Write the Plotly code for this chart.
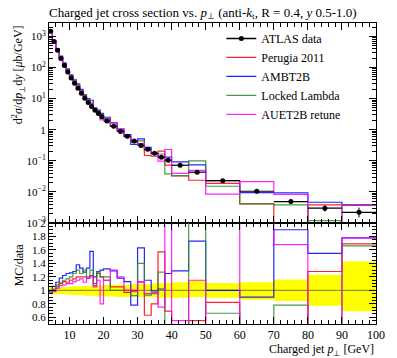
import plotly.graph_objects as go

# ---- data ----
edges = [4,5,6,7,8,9,10,11,12,13,14,15,16,17,18,19,20,22,24,26,28,30,32,34,36,38,40,45,50,60,70,80,90,100]
atlas = [1450,680,360,195,115,72,46,31,21.5,14.8,10.3,7.5,5.6,4.2,3.3,2.6,1.9,1.28,0.88,0.62,0.43,0.31,0.235,0.175,0.13,0.105,0.072,0.043,0.023,0.0105,0.0049,0.0030,0.0022]
err_up = [0.05,0.05,0.05,0.05,0.05,0.05,0.05,0.06,0.06,0.06,0.06,0.06,0.07,0.07,0.07,0.07,0.08,0.08,0.08,0.08,0.09,0.09,0.09,0.10,0.10,0.11,0.12,0.15,0.11,0.12,0.16,0.23,0.43]
err_dn = [0.06,0.06,0.06,0.06,0.06,0.06,0.07,0.07,0.07,0.07,0.08,0.08,0.08,0.08,0.09,0.09,0.09,0.09,0.10,0.10,0.10,0.10,0.10,0.10,0.11,0.11,0.11,0.10,0.11,0.14,0.16,0.23,0.31]

r_perugia = [0.96,1.00,1.05,1.10,1.13,1.12,1.15,1.17,1.20,1.20,1.20,1.18,1.22,1.10,1.25,1.20,1.15,1.05,1.05,0.97,1.00,1.12,0.63,0.80,1.57,0.69,0.45,0.55,0.82,0.39,0.15,1.28,1.69]
r_ambt2b = [1.00,1.06,1.12,1.18,1.22,1.25,1.26,1.28,1.38,1.33,1.27,1.33,1.58,1.20,1.28,1.30,1.32,1.29,1.18,1.13,0.78,1.63,1.15,0.99,1.02,1.25,1.29,1.73,1.00,0.90,1.90,1.55,1.78]
r_locked = [0.98,1.02,1.08,1.12,1.15,1.17,1.20,1.25,1.30,1.25,1.30,1.20,1.30,1.07,1.27,1.20,1.20,1.00,1.00,1.00,0.92,1.40,0.93,0.95,1.27,0.36,0.46,2.30,0.66,0.39,0.78,0.40,1.66]
r_auet2b = [0.96,0.98,1.03,1.07,1.08,1.10,1.10,1.13,1.15,1.17,1.12,1.18,1.20,1.05,1.15,0.80,1.15,1.30,1.20,1.00,0.98,1.13,0.95,0.97,0.75,2.20,0.55,1.15,0.37,2.05,1.68,0.25,1.78]

mc_names = ["Perugia 2011", "AMBT2B", "Locked Lambda", "AUET2B retune"]
mc_ratios = [r_perugia, r_ambt2b, r_locked, r_auet2b]
mc_colors = ["#ff0000", "#0000ff", "#2a8a2a", "#ff00ff"]

centers = [(a + b) / 2 for a, b in zip(edges[:-1], edges[1:])]
halfw = [(b - a) / 2 for a, b in zip(edges[:-1], edges[1:])]

def step(v):
    return list(v) + [v[-1]]

FONT = "Liberation Serif"
fig = go.Figure()

# ratio band
band_lo = [1 - e for e in err_dn]
band_hi = [1 + e for e in err_up]
fig.add_trace(go.Scatter(x=edges, y=step(band_lo), mode="lines", line=dict(width=0, shape="hv"),
                         xaxis="x2", yaxis="y2", showlegend=False, hoverinfo="skip"))
fig.add_trace(go.Scatter(x=edges, y=step(band_hi), mode="lines", line=dict(width=0, shape="hv"),
                         fill="tonexty", fillcolor="#ffff00", xaxis="x2", yaxis="y2",
                         showlegend=False, hoverinfo="skip"))
fig.add_trace(go.Scatter(x=edges, y=step([1.0] * len(atlas)), mode="lines",
                         line=dict(width=0.8, color="#555555", shape="hv"),
                         xaxis="x2", yaxis="y2", showlegend=False, hoverinfo="skip"))

# legend entry for data (line + dot, like the reference key)
fig.add_trace(go.Scatter(x=[None], y=[None], mode="lines+markers", name="ATLAS data",
                         line=dict(color="black", width=1.5), marker=dict(color="black", size=5),
                         legendrank=1, xaxis="x", yaxis="y"))

for k, (name, rr, col) in enumerate(zip(mc_names, mc_ratios, mc_colors)):
    mc = [d * r for d, r in zip(atlas, rr)]
    fig.add_trace(go.Scatter(x=edges, y=step(mc), mode="lines", name=name,
                             line=dict(color=col, width=1.2, shape="hv"),
                             opacity=0.85, legendrank=k + 2, xaxis="x", yaxis="y"))
    fig.add_trace(go.Scatter(x=edges, y=step(rr), mode="lines", name=name,
                             line=dict(color=col, width=1.2, shape="hv"),
                             opacity=0.85, showlegend=False, xaxis="x2", yaxis="y2"))

fig.add_trace(go.Scatter(
    x=centers, y=atlas, mode="markers", name="ATLAS data",
    marker=dict(color="black", size=5),
    error_x=dict(type="data", array=halfw, color="black", thickness=1.2, width=0),
    error_y=dict(type="data", symmetric=False,
                 array=[d * e for d, e in zip(atlas, err_up)],
                 arrayminus=[d * e for d, e in zip(atlas, err_dn)],
                 color="black", thickness=1, width=0),
    showlegend=False, xaxis="x", yaxis="y"))

split = (358 - 34 - 223) / 301.0

ax_common = dict(showline=True, linecolor="black", linewidth=1, mirror="allticks",
                 ticks="inside", tickcolor="black", showgrid=False, zeroline=False)

ytv = [1e-3, 1e-2, 1e-1, 1, 10, 100, 1000]
ytt = ["10<sup>−3</sup>", "10<sup>−2</sup>", "10<sup>−1</sup>", "1",
       "10<sup>1</sup>", "10<sup>2</sup>", "10<sup>3</sup>"]

fig.update_layout(
    width=397, height=358,
    margin=dict(l=49, r=13, t=23, b=34),
    paper_bgcolor="white", plot_bgcolor="white",
    font=dict(family=FONT, size=11, color="black"),
    showlegend=True,
    legend=dict(x=0.527, y=0.997, xanchor="left", yanchor="top", traceorder="normal",
                bgcolor="rgba(0,0,0,0)", font=dict(family=FONT, size=12),
                tracegroupgap=0, itemwidth=30),
    title=dict(text="Charged jet cross section vs. <i>p</i><sub>⊥</sub> (anti-<i>k</i><sub>t</sub>, R = 0.4, <i>y</i> 0.5-1.0)",
               x=49 / 397, xanchor="left", y=1 - 12 / 358, yanchor="middle",
               font=dict(family=FONT, size=13)),
    xaxis=dict(domain=[0, 1], range=[4, 100], anchor="y", showticklabels=False,
               tick0=0, dtick=10, ticklen=7,
               minor=dict(ticks="inside", dtick=2, tick0=0, ticklen=4, tickcolor="black"),
               **ax_common),
    yaxis=dict(domain=[split, 1], type="log", range=[-3, 3.43], anchor="x",
               tickmode="array", tickvals=ytv, ticktext=ytt, ticklen=7,
               minor=dict(ticks="inside", dtick="D1", ticklen=4, tickcolor="black"),
               tickfont=dict(size=11), **ax_common),
    xaxis2=dict(domain=[0, 1], range=[4, 100], anchor="y2",
                tick0=0, dtick=10, ticklen=7,
                minor=dict(ticks="inside", dtick=2, tick0=0, ticklen=4, tickcolor="black"),
                tickfont=dict(size=12), **ax_common),
    yaxis2=dict(domain=[0, split], range=[0.5, 2.0], anchor="x2",
                tickmode="array", tickvals=[0.6, 0.8, 1.0, 1.2, 1.4, 1.6, 1.8, 2.0],
                ticktext=["0.6", "0.8", "1", "1.2", "1.4", "1.6", "1.8", "2"], ticklen=7,
                minor=dict(ticks="inside", dtick=0.05, tick0=0, ticklen=4, tickcolor="black"),
                tickfont=dict(size=11), **ax_common),
)

fig.add_annotation(text="d<sup>2</sup><i>σ</i>/d<i>p</i><sub>⊥</sub>d<i>y</i> [<i>μ</i>b/GeV]",
                   xref="paper", yref="paper", x=-0.0925, y=1.0, xanchor="center", yanchor="top",
                   textangle=-90, showarrow=False, font=dict(family=FONT, size=12))
fig.add_annotation(text="MC/data", xref="paper", yref="paper", x=-0.0925, y=split - 0.06,
                   xanchor="center", yanchor="top", textangle=-90, showarrow=False,
                   font=dict(family=FONT, size=12))
fig.add_annotation(text="Charged jet <i>p</i><sub>⊥</sub> [GeV]", xref="paper", yref="paper",
                   x=1.0, y=-(350 - 324) / 301.0, xanchor="right", yanchor="middle",
                   showarrow=False, font=dict(family=FONT, size=12))

fig.write_html("out.html", config={"displayModeBar": False},
               post_script="document.body.style.margin='0';document.body.style.overflow='hidden';")
